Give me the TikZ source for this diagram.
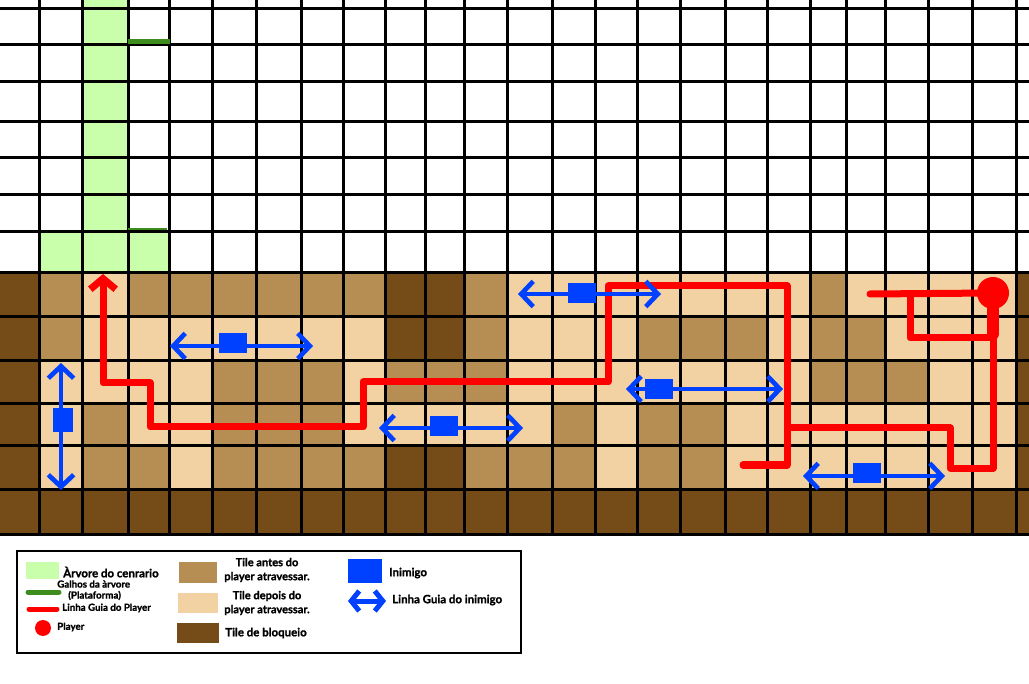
\documentclass[tikz,border=0pt]{standalone}
\usepackage{fontspec}
\setmainfont{Lato}[BoldFeatures={FakeBold=1.2}]
\usetikzlibrary{arrows.meta}
\definecolor{tree}{RGB}{201,255,171}
\definecolor{branch}{RGB}{62,140,30}
\definecolor{tileD}{HTML}{754C18}
\definecolor{tileM}{HTML}{B68D52}
\definecolor{tileL}{HTML}{F2D2A2}
\definecolor{guidered}{RGB}{255,0,0}
\definecolor{enemyblue}{RGB}{0,64,255}
\tikzset{
  gridline/.style={line width=2.25pt, black},
  pguide/.style={line width=5.25pt, guidered, line join=round, line cap=round},
  eguide/.style={line width=3.5pt, enemyblue,
    {Straight Barb[length=9pt,width=19pt]}-{Straight Barb[length=9pt,width=19pt]}},
  enemy/.style={fill=enemyblue, inner sep=0pt, minimum width=20.5pt, minimum height=15pt},
  player/.style={circle, fill=guidered, inner sep=0pt, minimum size=24pt},
  legtxt/.style={font=\bfseries\fontsize{8.6}{9.6}\selectfont, inner sep=0pt},
  legtwo/.style={font=\bfseries\fontsize{8.3}{10.5}\selectfont, inner sep=0pt, align=center},
  legsmall/.style={font=\bfseries\fontsize{7.3}{8.3}\selectfont, inner sep=0pt}
}

\begin{document}
\begin{tikzpicture}[x=0.75pt, y=-0.75pt]
  \useasboundingbox (0,0) rectangle (1029,684);
  \fill[white] (0,0) rectangle (1029,684);
  % column and row edges
  \foreach \x [count=\i from 0] in {0,39,82,128,169,212,256,301,343,385,425,464,507,552,595,637,680,725,767,810,846,885,928,972,1016,1029}
    \coordinate (b\i) at (\x,0);
  \foreach \y [count=\j from 0] in {273,317,361,404,446,489,534}
    \coordinate (h\j) at (0,\y);
  % tree
  \fill[tree] (82,0) rectangle (128,273);
  \fill[tree] (39,232) rectangle (169,273);
  % ground tiles
  \foreach \cells [count=\m from 0] in {
    {D,M,L,M,M,M,M,M,M,D,D,M,L,L,L,L,L,L,L,M,L,L,L,L,D},
    {D,M,L,L,L,L,L,L,L,D,D,M,L,L,L,M,M,M,L,M,M,L,L,L,D},
    {D,L,L,L,L,M,M,M,L,M,M,M,L,L,L,L,L,L,L,M,M,M,L,L,D},
    {D,L,M,L,L,M,M,M,L,L,L,L,L,M,L,M,M,L,L,L,L,L,L,L,D},
    {D,L,M,M,L,M,M,M,M,D,D,M,M,M,L,M,M,L,L,L,L,L,L,L,D}}{
    \pgfmathtruncatemacro\mm{\m+1}
    \foreach \t [count=\k from 0] in \cells {
      \pgfmathtruncatemacro\kk{\k+1}
      \fill[tile\t] (b\k |- h\m) rectangle (b\kk |- h\mm);
    }
  }
  \fill[tileD] (b0 |- h5) rectangle (b25 |- h6);
  % grid
  \foreach \k in {1,...,24}
    \draw[gridline] (b\k) -- (b\k |- h6);
  \foreach \y in {9,45,82,122,158,195,232,273,317,361,404,446,489,534}
    \draw[gridline] (0,\y) -- (1029,\y);
  % branches
  \draw[branch, line width=3.75pt] (128,42) -- (170,42);
  \draw[branch, line width=1.5pt] (128,229.5) -- (167,229.5);
  % player guide
  \coordinate (p) at (993,293);
  \draw[pguide, -{Straight Barb[length=8pt,width=19pt]}] (p) -- (993,468) -- (950,468) -- (950,428)
    -- (787,428) -- (787,286) -- (608,286) -- (608,382) -- (363,382) -- (363,427)
    -- (150,427) -- (150,383) -- (103,383) -- (103,274);
  \draw[pguide] (787,428) -- (787,465) -- (743,465);
  \draw[pguide] (870,294) -- (p);
  \draw[pguide] (910,294) -- (910,338) -- (992,338);
  \draw[pguide, line width=9pt] (p) -- (993,334);
  \node[player] (player) at (p) {};
  % enemies
  \coordinate (e1a) at (61,363); \coordinate (e1b) at (61,490);
  \coordinate (e2a) at (170,346); \coordinate (e2b) at (313,346);
  \coordinate (e3a) at (379,428); \coordinate (e3b) at (523,428);
  \coordinate (e4a) at (518,294); \coordinate (e4b) at (661,294);
  \coordinate (e5a) at (626,389); \coordinate (e5b) at (783,389);
  \coordinate (e6a) at (803,476); \coordinate (e6b) at (945,476);
  \draw[eguide] (e1a) -- (e1b);
  \node[enemy, minimum width=15pt, minimum height=18pt] (e1) at (63,420) {};
  \draw[eguide] (e2a) -- (e2b);
  \node[enemy] (e2) at (233,343) {};
  \draw[eguide] (e3a) -- (e3b);
  \node[enemy] (e3) at (444,426) {};
  \draw[eguide] (e4a) -- (e4b);
  \node[enemy] (e4) at (582,293) {};
  \draw[eguide] (e5a) -- (e5b);
  \node[enemy] (e5) at (659,389) {};
  \draw[eguide] (e6a) -- (e6b);
  \node[enemy] (e6) at (867,473) {};
  % legend
  \draw[line width=1.5pt] (17,551) rectangle (521,653);
  \fill[tree] (26,562) rectangle (59,579);
  \node[legtxt, anchor=west] (ltree) at (63,572) {Àrvore do cenrario};
  \node[legsmall, anchor=west] (lbranch) at (57,584) {Galhos da àrvore};
  \draw[branch, line width=3.75pt, line cap=round] (28,592) -- (59,592);
  \node[legsmall, anchor=west] (lplat) at (68,595.5) {(Plataforma)};
  \draw[guidered, line width=3.75pt, line cap=round] (29,609) -- (57,609);
  \node[legsmall, anchor=west] (lpguide) at (62,608) {Linha Guia do Player};
  \node[player, minimum size=12pt] (lplayer) at (43,628) {};
  \node[legsmall, anchor=west] (lplayertxt) at (57,627) {Player};
  \fill[tileM] (179,562) rectangle (217,583);
  \node[legtwo] (lbefore) at (267,570) {Tile antes do\\player atravessar.};
  \fill[tileL] (178,593) rectangle (218,613);
  \node[legtwo] (lafter) at (267,603) {Tile depois do\\player atravessar.};
  \fill[tileD] (177,623) rectangle (219,643);
  \node[legtxt, anchor=west] (lblock) at (225,633) {Tile de bloqueio};
  \fill[enemyblue] (348,559) rectangle (382,583);
  \node[legtxt, anchor=west] (lenemy) at (389,573) {Inimigo};
  \draw[enemyblue, line width=3.75pt, {Straight Barb[length=6pt,width=15pt]}-{Straight Barb[length=6pt,width=15pt]}] (348,601) -- (386,601);
  \node[legtxt, anchor=west] (leguide) at (392,600) {Linha Guia do inimigo};
\end{tikzpicture}
\end{document}
